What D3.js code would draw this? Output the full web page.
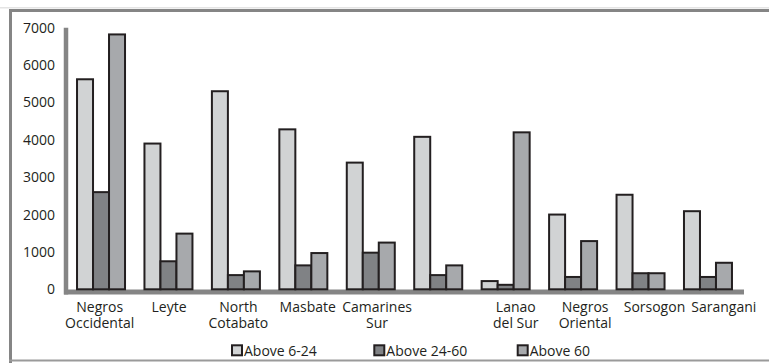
<!DOCTYPE html>
<html><head><meta charset="utf-8">
<script src="https://cdn.jsdelivr.net/npm/d3@7"></script>
<style>html,body{margin:0;padding:0;background:#fff;}svg{display:block;}</style>
</head><body>
<svg id="c" width="769" height="363"></svg>
<script>
const categories = [["Negros","Occidental"],["Leyte"],["North","Cotabato"],["Masbate"],["Camarines","Sur"],[""],["Lanao","del Sur"],["Negros","Oriental"],["Sorsogon"],["Sarangani"]];
const seriesNames = ["Above 6-24","Above 24-60","Above 60"];
const above6_24 = [5620,3900,5300,4280,3390,4080,220,2000,2530,2090];
const above24_60 = [2600,750,380,640,980,380,120,330,430,330];
const above60 = [6820,1490,480,970,1250,640,4200,1290,430,710];
const yTicks = [0,1000,2000,3000,4000,5000,6000,7000];
const colors = ["#d1d3d4","#808285","#a7a9ac"];

const series = [above6_24, above24_60, above60];
const svg = d3.select("#c");
const font = "'Open Sans', sans-serif";

// frame
svg.append("rect").attr("x",0).attr("y",7).attr("width",769).attr("height",1.5).attr("fill","#e4e4e4");
svg.append("line").attr("x1",9).attr("x2",769).attr("y1",10.5).attr("y2",10.5).attr("stroke","#858585").attr("stroke-width",3);
svg.append("line").attr("x1",10.5).attr("x2",10.5).attr("y1",9).attr("y2",363).attr("stroke","#858585").attr("stroke-width",3);
svg.append("line").attr("x1",9).attr("x2",769).attr("y1",360.5).attr("y2",360.5).attr("stroke","#9a9a9a").attr("stroke-width",2);

const idx = d3.range(categories.length);
const x = d3.scaleBand().domain(idx).range([66.3, 740.7]).paddingInner(0).paddingOuter(0);
const xLab = d3.scaleBand().domain(idx).range([65, 758.5]);
const inner = d3.scaleBand().domain([0,1,2]).range([0,48]);
const y = d3.scaleLinear().domain([0,7000]).range([289.3, 27.7]);

// y axis line
svg.append("line").attr("x1",66).attr("x2",66).attr("y1",y(7000)).attr("y2",294.5).attr("stroke","#858585").attr("stroke-width",4.5);
// baseline
svg.append("line").attr("x1",64).attr("x2",744).attr("y1",292).attr("y2",292).attr("stroke","#858585").attr("stroke-width",5);

// y tick labels
svg.append("g").selectAll("text").data(yTicks).join("text")
  .attr("x",55).attr("y",d=>y(d)).attr("dy","0.36em")
  .attr("text-anchor","end").attr("font-family",font).attr("font-size",14).attr("fill","#231f20")
  .text(d=>d);

// bars
const off = (x.bandwidth()-48)/2;
series.forEach((vals,s)=>{
  svg.append("g").selectAll("rect").data(vals).join("rect")
    .attr("x",(d,i)=>x(i)+off+inner(s)+1)
    .attr("width",inner.bandwidth()-0)
    .attr("y",d=>y(d))
    .attr("height",d=>y(0)-y(d))
    .attr("fill",colors[s]).attr("stroke","#231f20").attr("stroke-width",2);
});

// category labels
const lg = svg.append("g");
categories.forEach((lines,i)=>{
  const t = lg.append("text").attr("text-anchor","middle").attr("font-family",font).attr("font-size",14).attr("fill","#231f20");
  lines.forEach((ln,k)=>{
    t.append("tspan").attr("x",xLab(i)+xLab.bandwidth()/2).attr("y",311.7+k*16.7).text(ln);
  });
});

// legend
const legX = [231,373.3,516.7];
seriesNames.forEach((nm,s)=>{
  svg.append("rect").attr("x",legX[s]+1).attr("y",345.3).attr("width",10).attr("height",10)
    .attr("fill",colors[s]).attr("stroke","#231f20").attr("stroke-width",2);
  svg.append("text").attr("x",legX[s]+13).attr("y",355.5).attr("font-family",font).attr("font-size",14).attr("fill","#231f20").text(nm);
});
</script>
</body></html>
